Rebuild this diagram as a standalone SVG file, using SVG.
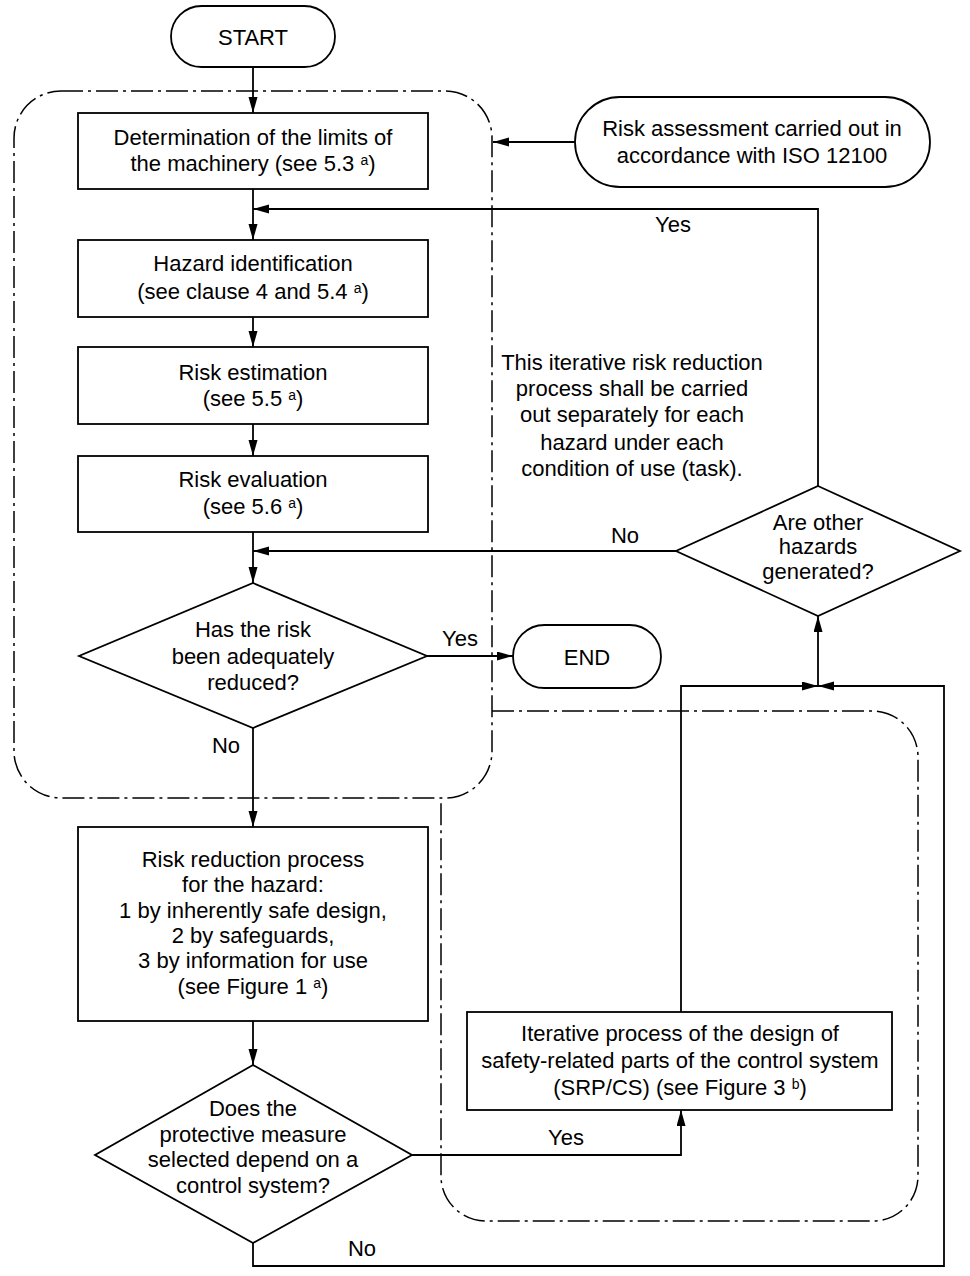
<svg xmlns="http://www.w3.org/2000/svg" width="970" height="1276" viewBox="0 0 970 1276">
<style>
  .box { fill: #fff; stroke: #000; stroke-width: 1.8; }
  .bnd { fill: none; stroke: #000; stroke-width: 1.5; stroke-dasharray: 22 5 3 5; }
  .ln { fill: none; stroke: #000; stroke-width: 1.8; }
  .arr { marker-end: url(#ah); }
  text { font-family: "Liberation Sans", Arial, sans-serif; font-size: 22px; fill: #000; text-anchor: middle; }
  .sup { font-size: 14px; }
</style>
<defs>
  <marker id="ah" markerUnits="userSpaceOnUse" markerWidth="18" markerHeight="10" refX="16" refY="4.5" orient="auto">
    <path d="M0,0 L16,4.5 L0,9 z" fill="#000"/>
  </marker>
</defs>
<rect width="970" height="1276" fill="#fff"/>

<g id="boundary">
  <rect class="bnd" x="14" y="91" width="478" height="707" rx="47" ry="47"/>
  <path class="bnd" d="M492,711 H872 A46,46 0 0 1 918,757 V1176 A45,45 0 0 1 873,1221 H486 A45,45 0 0 1 441,1176 V798"/>
</g>

<g id="connectors">
  <path class="ln arr" d="M253,67 V113"/>
  <path class="ln arr" d="M575,142 H493"/>
  <path class="ln arr" d="M253,189 V240"/>
  <path class="ln arr" d="M253,317 V347"/>
  <path class="ln arr" d="M253,424 V456"/>
  <path class="ln arr" d="M253,532 V583"/>
  <path class="ln arr" d="M818,486 V209 H253"/>
  <path class="ln arr" d="M676,551 H253"/>
  <path class="ln arr" d="M427,656 H513"/>
  <path class="ln arr" d="M253,728 V827"/>
  <path class="ln arr" d="M253,1021 V1065"/>
  <path class="ln arr" d="M412,1155 H681 V1110"/>
  <path class="ln arr" d="M681,1012 V686 H818"/>
  <path class="ln arr" d="M253,1243 V1266 H944 V686 H818"/>
  <path class="ln arr" d="M818,686 V616"/>
  <text x="673" y="232">Yes</text>
  <text x="625" y="543">No</text>
  <text x="460" y="646">Yes</text>
  <text x="226" y="753">No</text>
  <text x="566" y="1145">Yes</text>
  <text x="362" y="1256">No</text>
</g>

<g id="start">
  <rect class="box" x="171" y="6" width="164" height="61" rx="30.5" ry="30.5"/>
  <text x="253" y="45">START</text>
</g>

<g id="risk-assessment">
  <rect class="box" x="575" y="97" width="355" height="90" rx="45" ry="45"/>
  <text x="752" y="136">Risk assessment carried out in</text>
  <text x="752" y="163">accordance with ISO 12100</text>
</g>

<g id="limits">
  <rect class="box" x="78" y="113" width="350" height="76"/>
  <text x="253" y="145">Determination of the limits of</text>
  <text x="253" y="171">the machinery (see 5.3 <tspan class="sup" dy="-6">a</tspan><tspan dy="6">)</tspan></text>
</g>

<g id="hazard-id">
  <rect class="box" x="78" y="240" width="350" height="77"/>
  <text x="253" y="271">Hazard identification</text>
  <text x="253" y="299">(see clause 4 and 5.4 <tspan class="sup" dy="-6">a</tspan><tspan dy="6">)</tspan></text>
</g>

<g id="risk-estimation">
  <rect class="box" x="78" y="347" width="350" height="77"/>
  <text x="253" y="380">Risk estimation</text>
  <text x="253" y="406">(see 5.5 <tspan class="sup" dy="-6">a</tspan><tspan dy="6">)</tspan></text>
</g>

<g id="risk-evaluation">
  <rect class="box" x="78" y="456" width="350" height="76"/>
  <text x="253" y="487">Risk evaluation</text>
  <text x="253" y="514">(see 5.6 <tspan class="sup" dy="-6">a</tspan><tspan dy="6">)</tspan></text>
</g>

<g id="note">
  <text x="632" y="370">This iterative risk reduction</text>
  <text x="632" y="396">process shall be carried</text>
  <text x="632" y="422">out separately for each</text>
  <text x="632" y="450">hazard under each</text>
  <text x="632" y="476">condition of use (task).</text>
</g>

<g id="other-hazards">
  <path class="box" d="M818,486 L960,551 L818,616 L676,551 Z"/>
  <text x="818" y="530">Are other</text>
  <text x="818" y="554">hazards</text>
  <text x="818" y="579">generated?</text>
</g>

<g id="adequately-reduced">
  <path class="box" d="M253,583 L427,656 L253,728 L79,656 Z"/>
  <text x="253" y="637">Has the risk</text>
  <text x="253" y="664">been adequately</text>
  <text x="253" y="690">reduced?</text>
</g>

<g id="end">
  <rect class="box" x="513" y="625" width="148" height="63" rx="31.5" ry="31.5"/>
  <text x="587" y="665">END</text>
</g>

<g id="risk-reduction">
  <rect class="box" x="78" y="827" width="350" height="194"/>
  <text x="253" y="867">Risk reduction process</text>
  <text x="253" y="892">for the hazard:</text>
  <text x="253" y="918">1 by inherently safe design,</text>
  <text x="253" y="943">2 by safeguards,</text>
  <text x="253" y="968">3 by information for use</text>
  <text x="253" y="994">(see Figure 1 <tspan class="sup" dy="-6">a</tspan><tspan dy="6">)</tspan></text>
</g>

<g id="control-system">
  <path class="box" d="M253,1065 L412,1155 L253,1243 L95,1155 Z"/>
  <text x="253" y="1116">Does the</text>
  <text x="253" y="1142">protective measure</text>
  <text x="253" y="1167">selected depend on a</text>
  <text x="253" y="1193">control system?</text>
</g>

<g id="srp-cs">
  <rect class="box" x="467" y="1012" width="425" height="98"/>
  <text x="680" y="1041">Iterative process of the design of</text>
  <text x="680" y="1068">safety-related parts of the control system</text>
  <text x="680" y="1095">(SRP/CS) (see Figure 3 <tspan class="sup" dy="-6">b</tspan><tspan dy="6">)</tspan></text>
</g>
</svg>
